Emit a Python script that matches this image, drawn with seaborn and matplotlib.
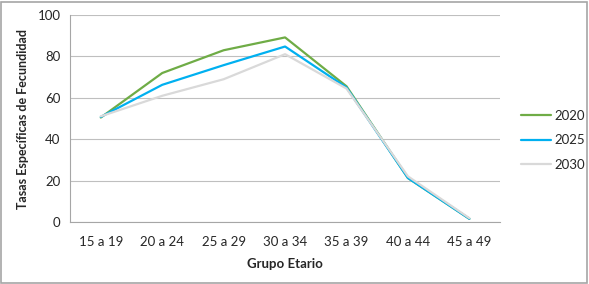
import matplotlib.pyplot as plt
import pandas as pd
import seaborn as sns
from matplotlib.patches import Rectangle

grupos = ["15 a 19", "20 a 24", "25 a 29", "30 a 34", "35 a 39", "40 a 44", "45 a 49"]
tasas_2020 = [50.5, 72.0, 83.0, 89.2, 65.6, 21.3, 1.6]
tasas_2025 = [50.8, 66.3, 75.8, 84.8, 65.0, 21.3, 1.6]
tasas_2030 = [51.1, 61.0, 69.0, 81.1, 64.5, 22.1, 1.9]
anios = ["2020", "2025", "2030"]
colores = ["#6FAC46", "#00B0F0", "#D9D9D9"]

df = pd.DataFrame({
    "grupo": grupos * 3,
    "x": list(range(len(grupos))) * 3,
    "tasa": tasas_2020 + tasas_2025 + tasas_2030,
    "anio": [a for a in anios for _ in grupos],
})

sns.set_style("white")
plt.rcParams["font.family"] = ["Lato", "DejaVu Sans"]

fig = plt.figure(figsize=(5.89, 2.84), dpi=100)
ax = fig.add_axes([0.119, 0.218, 0.730, 0.729])

sns.lineplot(data=df, x="x", y="tasa", hue="anio", hue_order=anios,
             palette=colores, linewidth=1.6, ax=ax, legend=True)

ax.set_xlim(-0.5, len(grupos) - 0.5)
ax.set_ylim(0, 100)
ax.set_yticks([0, 20, 40, 60, 80, 100])
ax.yaxis.grid(True, color="#BFBFBF", linewidth=0.8)
ax.xaxis.grid(False)
ax.set_axisbelow(True)

ax.set_xticks(range(len(grupos)))
ax.set_xticklabels(grupos, fontsize=9.5)
ax.set_xticks([i - 0.5 for i in range(len(grupos) + 1)], minor=True)
ax.tick_params(axis="x", which="major", length=0, pad=10)
ax.tick_params(axis="x", which="minor", length=4, color="#A6A6A6", direction="out")
ax.tick_params(axis="y", length=4, color="#A6A6A6", direction="out", labelsize=9.5, pad=3)

for s in ["top", "right"]:
    ax.spines[s].set_visible(False)
for s in ["left", "bottom"]:
    ax.spines[s].set_color("#A6A6A6")
    ax.spines[s].set_linewidth(0.8)

ax.set_xlabel("Grupo Etario", fontsize=9.5, fontweight="bold", labelpad=7)
ax.set_ylabel("Tasas Específicas de Fecundidad", fontsize=9, fontweight="bold", labelpad=6)

leg = ax.legend(loc="center left", bbox_to_anchor=(1.02, 0.395), frameon=False,
                fontsize=9.5, handlelength=2.3, handletextpad=0.3, labelspacing=0.95)
for line in leg.get_lines():
    line.set_linewidth(1.6)

fig.patches.append(Rectangle((0.002, 0.004), 0.995, 0.99, transform=fig.transFigure,
                             fill=False, edgecolor="#A6A6A6", linewidth=1.2))

fig.savefig("out.png", dpi=100)
